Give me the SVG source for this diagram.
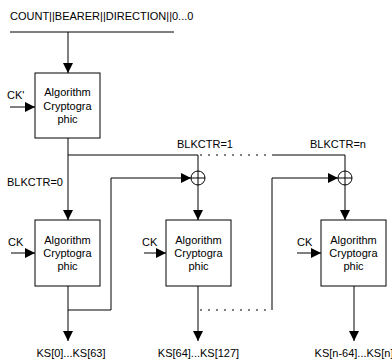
<svg xmlns="http://www.w3.org/2000/svg" width="392" height="360" viewBox="0 0 392 360">
<defs>
<marker id="ah" viewBox="0 0 10 10" refX="10" refY="5" markerWidth="10" markerHeight="10" markerUnits="userSpaceOnUse" orient="auto">
<path d="M0,0 L10,5 L0,10 Z" fill="#000"/>
</marker>
</defs>
<style>
text{font-family:"Liberation Sans",Arial,sans-serif;font-size:11px;fill:#000}
.m{text-anchor:middle}
.box{fill:#fff;stroke:#000;stroke-width:1}
.ln{fill:none;stroke:#000;stroke-width:1}
.dot{fill:none;stroke:#000;stroke-width:1;stroke-dasharray:2,6}
.arr{fill:none;stroke:#000;stroke-width:1;marker-end:url(#ah)}
</style>
<rect width="392" height="360" fill="#fff"/>
<g id="input">
<text x="10" y="20">COUNT||BEARER||DIRECTION||0...0</text>
</g>
<g id="connectors">
<line class="ln" x1="10" y1="32" x2="174" y2="32"/>
<line class="arr" x1="68" y1="32" x2="68" y2="73"/>
<line class="arr" x1="10" y1="107" x2="35" y2="107"/>
<polyline class="ln" points="68,138 68,155 198,155 198,171"/>
<line class="dot" x1="200" y1="155" x2="272" y2="155"/>
<polyline class="ln" points="272,155 345,155 345,171"/>
<line class="arr" x1="68" y1="155" x2="68" y2="220"/>
<line class="arr" x1="198" y1="185" x2="198" y2="220"/>
<line class="arr" x1="345" y1="185" x2="345" y2="220"/>
<line class="arr" x1="11" y1="253" x2="35" y2="253"/>
<line class="arr" x1="144" y1="253" x2="166" y2="253"/>
<line class="arr" x1="297" y1="253" x2="321" y2="253"/>
<line class="arr" x1="68" y1="286" x2="68" y2="341"/>
<line class="arr" x1="198" y1="286" x2="198" y2="341"/>
<line class="arr" x1="354" y1="286" x2="354" y2="341"/>
<polyline class="ln" points="68,310 111,310 111,178"/>
<line class="arr" x1="111" y1="178" x2="191" y2="178"/>
<line class="dot" x1="200" y1="310" x2="272" y2="310"/>
<line class="ln" x1="272" y1="310" x2="272" y2="178"/>
<line class="arr" x1="272" y1="178" x2="338" y2="178"/>
</g>
<g id="xor1">
<circle class="ln" cx="198" cy="178" r="7"/>
<line class="ln" x1="191" y1="178" x2="205" y2="178"/>
<line class="ln" x1="198" y1="171" x2="198" y2="185"/>
</g>
<g id="xorn">
<circle class="ln" cx="345" cy="178" r="7"/>
<line class="ln" x1="338" y1="178" x2="352" y2="178"/>
<line class="ln" x1="345" y1="171" x2="345" y2="185"/>
</g>
<g id="alg0">
<rect class="box" x="35" y="73" width="65" height="65"/>
<text class="m" x="67.5" y="96">Algorithm</text>
<text class="m" x="67.5" y="109.5">Cryptogra</text>
<text class="m" x="67.5" y="123">phic</text>
</g>
<g id="alg1">
<rect class="box" x="35" y="220" width="65" height="66"/>
<text class="m" x="67.5" y="244">Algorithm</text>
<text class="m" x="67.5" y="257">Cryptogra</text>
<text class="m" x="67.5" y="270">phic</text>
</g>
<g id="alg2">
<rect class="box" x="166" y="220" width="65" height="66"/>
<text class="m" x="198.5" y="244">Algorithm</text>
<text class="m" x="198.5" y="257">Cryptogra</text>
<text class="m" x="198.5" y="270">phic</text>
</g>
<g id="alg3">
<rect class="box" x="321" y="220" width="65" height="66"/>
<text class="m" x="353.5" y="244">Algorithm</text>
<text class="m" x="353.5" y="257">Cryptogra</text>
<text class="m" x="353.5" y="270">phic</text>
</g>
<g id="labels">
<text x="7" y="99">CK'</text>
<text x="8" y="246">CK</text>
<text x="142" y="246">CK</text>
<text x="297" y="246">CK</text>
<text x="7" y="186">BLKCTR=0</text>
<text class="m" x="205" y="148">BLKCTR=1</text>
<text class="m" x="338" y="148">BLKCTR=n</text>
<text class="m" x="71" y="357">KS[0]...KS[63]</text>
<text class="m" x="198.5" y="357">KS[64]...KS[127]</text>
<text class="m" x="354" y="357">KS[n-64]...KS[n]</text>
</g>
</svg>
